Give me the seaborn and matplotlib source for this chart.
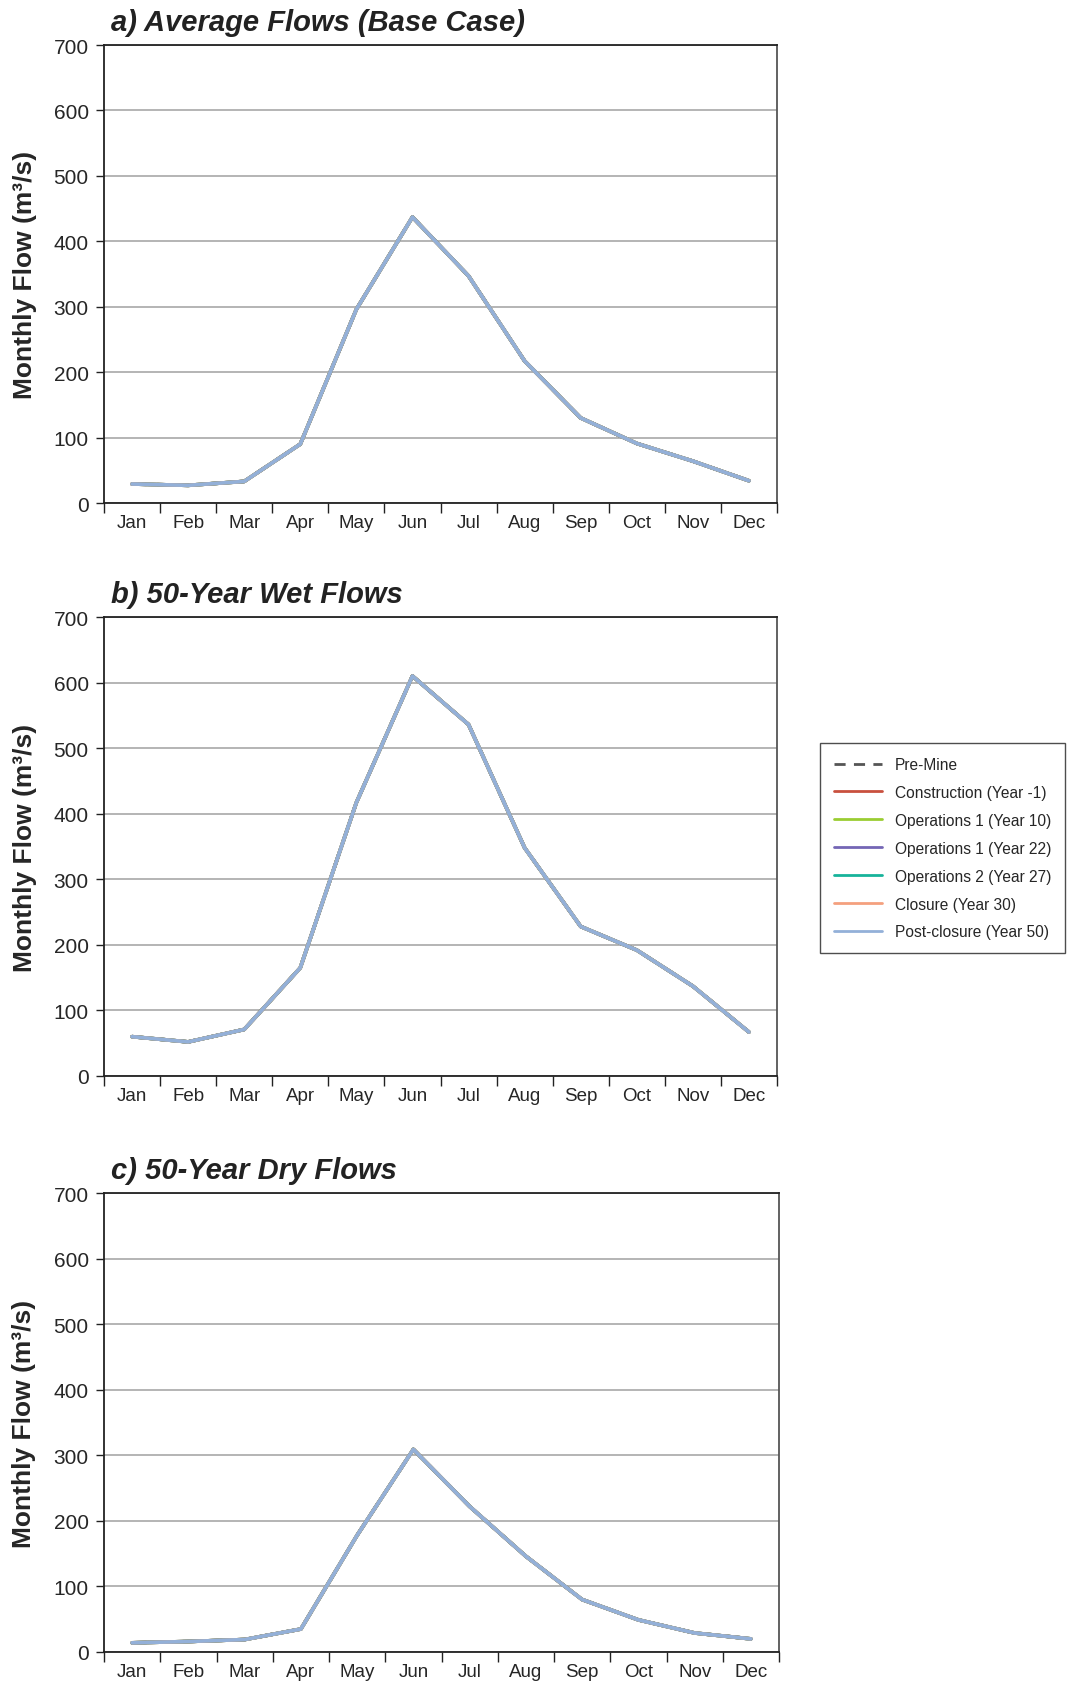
import matplotlib
matplotlib.use("Agg")
import matplotlib.pyplot as plt
import seaborn as sns
import pandas as pd
import numpy as np

months = ["Jan", "Feb", "Mar", "Apr", "May", "Jun", "Jul", "Aug", "Sep", "Oct", "Nov", "Dec"]
scenarios = ["Pre-Mine", "Construction (Year -1)", "Operations 1 (Year 10)",
             "Operations 1 (Year 22)", "Operations 2 (Year 27)", "Closure (Year 30)",
             "Post-closure (Year 50)"]
colors = ["#555555", "#C9503E", "#9ACD32", "#7466B5", "#17B39A", "#F4A07E", "#93B0D8"]

# values (all scenarios overlap almost exactly)
average_flows = [29, 27, 33, 90, 296, 437, 347, 217, 130, 91, 64, 34]
wet_flows = [60, 52, 71, 165, 417, 610, 536, 348, 228, 192, 137, 67]
dry_flows = [14, 16, 19, 35, 178, 309, 222, 146, 80, 49, 29, 20]

titles = ["a) Average Flows (Base Case)", "b) 50-Year Wet Flows", "c) 50-Year Dry Flows"]
panels = [average_flows, wet_flows, dry_flows]

sns.set_theme(style="white")
plt.rcParams['font.family'] = ['Liberation Sans', 'DejaVu Sans']

W, H = 1067, 1683
fig = plt.figure(figsize=(W / 100, H / 100), dpi=100)

# axes boxes in pixels: (left, top, right, bottom)
boxes = [(104, 46, 777, 504), (104, 618, 777, 1077), (104, 1194, 779, 1653)]

handles = None
for i, (vals, title, box) in enumerate(zip(panels, titles, boxes)):
    l, t, r, b = box
    ax = fig.add_axes([l / W, 1 - b / H, (r - l) / W, (b - t) / H])
    rows = []
    for s in scenarios:
        for m_i, v in enumerate(vals):
            rows.append({"x": m_i, "flow": v, "scenario": s})
    df = pd.DataFrame(rows)
    dashes = {s: (4, 3) if s == "Pre-Mine" else "" for s in scenarios}
    sns.lineplot(data=df, x="x", y="flow", hue="scenario", style="scenario",
                 hue_order=scenarios, style_order=scenarios,
                 palette=dict(zip(scenarios, colors)), dashes=dashes,
                 linewidth=2.6, ax=ax, legend=True)
    if handles is None:
        handles, labels = ax.get_legend_handles_labels()
    ax.get_legend().remove()

    ax.set_xlim(-0.5, 11.5)
    ax.set_ylim(0, 700)
    ax.set_yticks(np.arange(0, 701, 100))
    ax.set_xticks(range(12))
    ax.set_xticklabels(months, fontsize=13.5)
    ax.set_xticks(np.arange(-0.5, 12, 1), minor=True)
    ax.tick_params(axis='x', which='major', length=0, pad=8)
    ax.tick_params(axis='x', which='minor', length=7, width=1, color='#222222', direction='out', bottom=True)
    ax.tick_params(axis='y', which='major', length=6, width=1, color='#222222', direction='out', left=True,
                   labelsize=15, pad=5)
    ax.grid(axis='y', color='#a0a0a0', linewidth=1.1)
    ax.grid(axis='x', visible=False)
    for sp in ["left", "bottom", "top", "right"]:
        ax.spines[sp].set_visible(True)
        ax.spines[sp].set_color('#222222')
        ax.spines[sp].set_linewidth(1.3)
    ax.spines["right"].set_color('#555555')
    ax.set_xlabel("")
    ax.set_ylabel("Monthly Flow (m³/s)", fontsize=19, fontweight='bold')
    ax.yaxis.set_label_coords(-0.10, 0.5)
    ax.text(0.01, 1.02, title, transform=ax.transAxes, ha='left', va='bottom',
            fontsize=21, fontweight='bold', fontstyle='italic', color='#222222')

# Legend
leg = fig.legend(handles, scenarios, loc='upper left',
                 bbox_to_anchor=(820 / W, 1 - 744 / H), frameon=True, fancybox=False,
                 prop={'size': 11.2}, handlelength=3.1, handletextpad=0.8,
                 labelspacing=0.83, borderpad=0.9, borderaxespad=0)
leg.get_frame().set_edgecolor('#222222')
leg.get_frame().set_linewidth(1.0)
for line in leg.get_lines():
    line.set_linewidth(2)

fig.savefig("out.png", dpi=100)
